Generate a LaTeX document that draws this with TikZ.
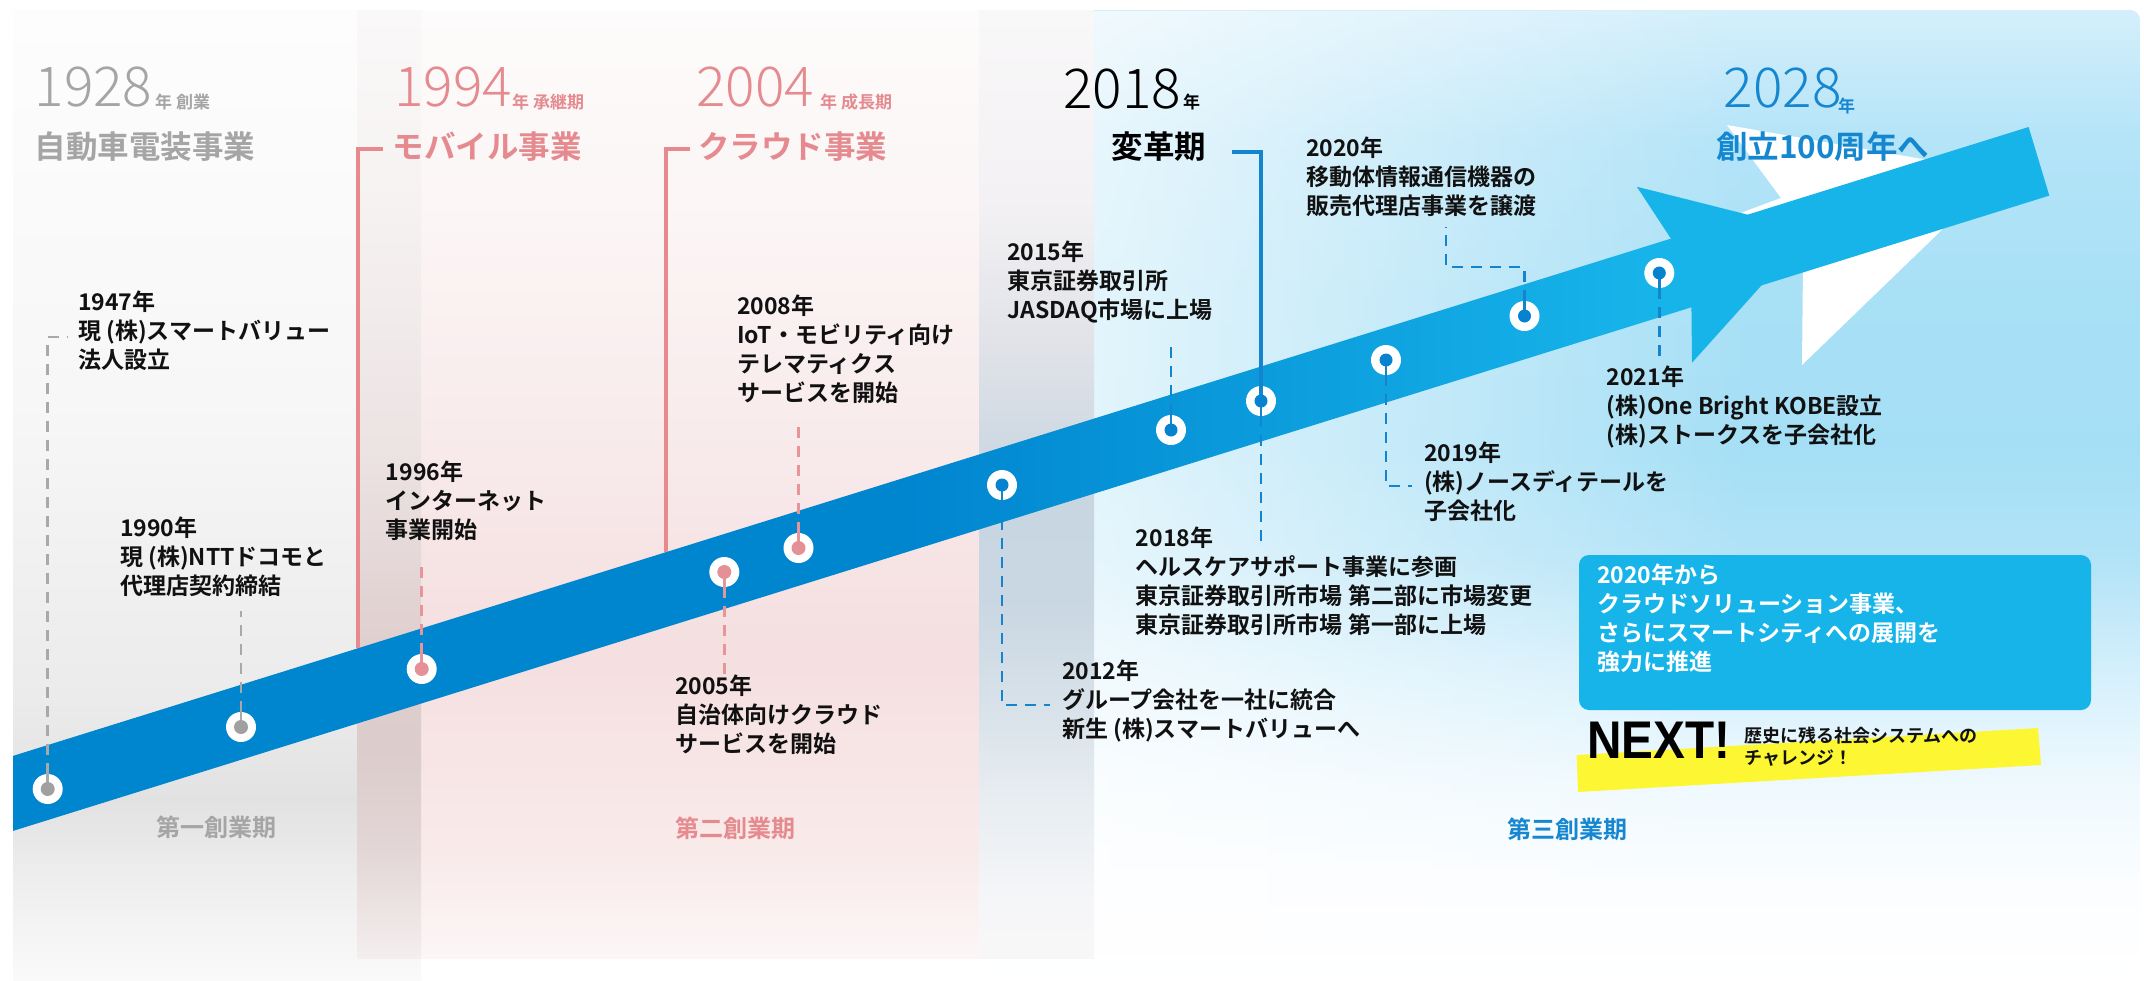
\documentclass[tikz,border=0pt]{standalone}
\usepackage{fontspec}
\usetikzlibrary{fadings}
\setmainfont{Noto Sans CJK JP}
% weights of the Japanese family, with fallbacks
\IfFontExistsTF{Noto Sans CJK JP Bold}
  {\newfontfamily\jpbold{Noto Sans CJK JP Bold}}
  {\newfontfamily\jpbold{Noto Sans CJK JP}}
\IfFontExistsTF{Noto Sans CJK JP Light}
  {\newfontfamily\jplight{Noto Sans CJK JP Light}}
  {\IfFontExistsTF{Noto Sans CJK JP DemiLight}
     {\newfontfamily\jplight{Noto Sans CJK JP DemiLight}}
     {\newfontfamily\jplight{Noto Sans CJK JP}}}
\newfontfamily\latinb{Liberation Sans}

% palette
\definecolor{bandA}{HTML}{0085CF}
\definecolor{bandB}{HTML}{17B4EA}
\definecolor{grayT}{HTML}{A5A5A5}
\definecolor{pinkT}{HTML}{E58A8F}
\definecolor{blueT}{HTML}{1587D0}
\definecolor{evtxt}{HTML}{111111}
\definecolor{gLead}{HTML}{A9A9A9}
\definecolor{pLead}{HTML}{E8959A}
\definecolor{bLead}{HTML}{1584CF}
\definecolor{gDot}{HTML}{A0A0A0}
\definecolor{pDot}{HTML}{E39196}
\definecolor{bDot}{HTML}{0782CF}
\definecolor{pinkBr}{HTML}{E8898E}
\definecolor{boxC}{HTML}{17B4E9}
\definecolor{yel}{HTML}{FDF733}
% gray panel
\definecolor{gp0}{HTML}{FAFAFA}\definecolor{gp1}{HTML}{EEEEEE}
\definecolor{gp2}{HTML}{E2E2E2}\definecolor{gp3}{HTML}{EBEBEB}
\definecolor{gp4}{HTML}{F7F7F7}\definecolor{gp5}{HTML}{FDFDFD}
% pink panel
\definecolor{pk0}{HTML}{FCF6F6}\definecolor{pk1}{HTML}{F9EAEA}
\definecolor{pk2}{HTML}{F5DFE0}\definecolor{pk3}{HTML}{F8EAEB}
\definecolor{pk4}{HTML}{FCF6F6}\definecolor{pk5}{HTML}{FDFBFB}
% gray/pink overlap
\definecolor{gk0}{HTML}{F4EEEE}\definecolor{gk1}{HTML}{E3D6D6}
\definecolor{gk2}{HTML}{DCCCCC}\definecolor{gk3}{HTML}{DFCECE}
\definecolor{gk4}{HTML}{ECE3E3}\definecolor{gk5}{HTML}{F6F2F2}
\definecolor{gk6}{HTML}{FAF8F8}
% pink/blue overlap
\definecolor{bk0}{HTML}{F8F7F8}\definecolor{bk1}{HTML}{F5F6F8}
\definecolor{bk2}{HTML}{E8EDF1}\definecolor{bk3}{HTML}{D7E1E9}
\definecolor{bk4}{HTML}{C9D7E2}\definecolor{bk5}{HTML}{C8D6E1}
\definecolor{bk6}{HTML}{E0E2E8}\definecolor{bk7}{HTML}{F3F1F3}
\definecolor{bk8}{HTML}{F9F8F9}
% blue panel
\definecolor{bl0}{HTML}{D4EFFB}\definecolor{bl1}{HTML}{B4E4F8}
\definecolor{bl2}{HTML}{A8E0F6}\definecolor{bl3}{HTML}{A5DFF6}
\definecolor{bl4}{HTML}{B2E3F7}\definecolor{bl5}{HTML}{D8F1FC}
\definecolor{bl6}{HTML}{EEF9FE}\definecolor{bl7}{HTML}{FBFDFF}

% vertical stops run from the bottom edge (25bp) to the top edge (75bp)
\pgfdeclarehorizontalshading{bandshade}{100bp}{color(0bp)=(bandA); color(46.8bp)=(bandA); color(65.2bp)=(bandB); color(100bp)=(bandB)}
\pgfdeclareverticalshading{graypanel}{100bp}{color(0bp)=(gp0); color(25bp)=(gp0); color(30.15bp)=(gp1); color(34.28bp)=(gp2); color(39.43bp)=(gp3); color(54.9bp)=(gp4); color(75bp)=(gp5); color(100bp)=(gp5)}
\pgfdeclareverticalshading{pinkpanel}{100bp}{color(0bp)=(pk0); color(25bp)=(pk0); color(30.7bp)=(pk1); color(41.24bp)=(pk2); color(51.79bp)=(pk3); color(64.98bp)=(pk4); color(75bp)=(pk5); color(100bp)=(pk5)}
\pgfdeclareverticalshading{graypink}{100bp}{color(0bp)=(gk0); color(25bp)=(gk0); color(30.7bp)=(gk1); color(35.97bp)=(gk2); color(41.24bp)=(gk3); color(51.79bp)=(gk4); color(64.98bp)=(gk5); color(75bp)=(gk6); color(100bp)=(gk6)}
\pgfdeclareverticalshading{pinkblue}{100bp}{color(0bp)=(bk0); color(25bp)=(bk0); color(28.06bp)=(bk1); color(33.33bp)=(bk2); color(38.61bp)=(bk3); color(43.88bp)=(bk4); color(50.21bp)=(bk5); color(57.07bp)=(bk6); color(64.98bp)=(bk7); color(75bp)=(bk8); color(100bp)=(bk8)}
\pgfdeclareverticalshading{bluepanel}{100bp}{color(0bp)=(white); color(25bp)=(white); color(30.15bp)=(bl7); color(35.31bp)=(bl6); color(40.26bp)=(bl5); color(46.65bp)=(bl4); color(52.32bp)=(bl3); color(60.05bp)=(bl2); color(68.3bp)=(bl1); color(75bp)=(bl0); color(100bp)=(bl0)}

\begin{document}
\begin{tikzpicture}[x=1pt, y=-1pt,
  ring/.style={circle, fill=white, minimum size=30pt, inner sep=0pt},
  evt/.style={anchor=north west, inner sep=0pt, align=left, text=evtxt,
    font=\fontsize{23}{29}\jpbold, execute at begin node={\rule{0pt}{22pt}}},
  hdyear/.style={anchor=base west, inner sep=0pt, font=\fontsize{55}{55}\jplight},
  hdsmall/.style={anchor=base west, inner sep=0pt, font=\fontsize{17}{17}\jpbold},
  hdname/.style={anchor=base west, inner sep=0pt, font=\fontsize{31.5}{31.5}\jpbold},
  period/.style={anchor=base, inner sep=0pt, font=\fontsize{24}{24}\jpbold},
  lead/.style={line width=2.6pt, dash pattern=on 11pt off 8pt},
  stub/.style={line width=2.6pt},
  bracket/.style={line width=3.6pt}]

\useasboundingbox (0,0) rectangle (2144,980);
\fill[white] (0,0) rectangle (2144,980);

% ---- era panels ----
\shade[shading=graypanel] (13,10) rectangle (421,980);
\shade[shading=pinkpanel] (357,10) rectangle (1094,958);
\begin{scope}
  \clip[rounded corners=10pt] (979,10) rectangle (2140,980);
  \shade[shading=bluepanel] (979,10) rectangle (2140,980);
  \fill[white, fill opacity=0.8, path fading=east] (979,10) rectangle (1750,980);
\end{scope}
\shade[shading=graypink] (357,10) rectangle (421,958);
\shade[shading=pinkblue] (979,10) rectangle (1094,958);

% ---- paper plane shadow ----
\fill[white] (1727,125) -- (1928,160) -- (1800,250) -- (1735,215) -- (1781,198) -- cycle;
\fill[white] (1803,262) -- (1950,222) -- (1802,365) -- cycle;

% ---- timeline band with arrow head ----
\shade[shading=bandshade] (13,755.9) -- (2028.6,127.0) -- (2049.3,195.6) -- (13,830.9) -- cycle;
\fill[bandB] (1636.8,186.7) -- (1672.5,241) -- (1752.9,216) -- cycle;
\fill[bandB] (1691.4,304) -- (1692,362.7) -- (1765.4,281) -- cycle;

% ---- era brackets ----
\coordinate (h1994) at (383,149);  \coordinate (v1994) at (358,648);
\coordinate (h2004) at (690,149);  \coordinate (v2004) at (666,552);
\draw[bracket, pinkBr] (h1994) -| (v1994);
\draw[bracket, pinkBr] (h2004) -| (v2004);

% ---- milestones on the band ----
\node[ring] (c1947) at (47.7,789) {};
\node[ring] (c1990) at (241,727) {};
\node[ring] (c1996) at (421.7,669) {};
\node[ring] (c2005) at (724.3,572) {};
\node[ring] (c2008) at (798.5,548) {};
\node[ring] (c2012) at (1002,485) {};
\node[ring] (c2015) at (1171,430) {};
\node[ring] (c2018) at (1261,401) {};
\node[ring] (c2019) at (1386,360) {};
\node[ring] (c2020) at (1524.5,316) {};
\node[ring] (c2021) at (1659.3,273) {};

% leader end points
\coordinate (t1947) at (67,337);
\coordinate (t1990) at (241,611);
\coordinate (t1996) at (421.7,563);
\coordinate (t2005) at (724.3,675);
\coordinate (t2008) at (798.5,427);
\coordinate (t2012) at (1050,705);
\coordinate (t2015) at (1171,340);
\coordinate (h2018) at (1231.7,151.7);
\coordinate (t2018) at (1261,541);
\coordinate (t2019) at (1412,486);
\coordinate (k2020) at (1446,267);
\coordinate (t2020) at (1446,227);
\coordinate (t2021) at (1659.3,358);

% leaders
\draw[lead, gLead] (c1947) |- (t1947);
\draw[lead, gLead] (c1990) -- (t1990);
\draw[lead, pLead] (c1996) -- (t1996);
\draw[lead, pLead] (c2005) -- (t2005);
\draw[lead, pLead] (c2008) -- (t2008);
\draw[lead, bLead] (c2012) |- (t2012);
\draw[lead, bLead] (c2015) -- (t2015);
\draw[bracket, bLead] (h2018) -| (c2018);
\draw[lead, bLead] (c2018) -- (t2018);
\draw[lead, bLead] (c2019) |- (t2019);
\draw[lead, bLead] (c2020) |- (k2020) -- (t2020);
\draw[lead, bLead] (c2021) -- (t2021);

% stubs crossing the white rings
\draw[stub, gLead] (c1947.center) -- (c1947.north);
\draw[stub, gLead] (c1990.center) -- (c1990.north);
\draw[stub, pLead] (c1996.center) -- (c1996.north);
\draw[stub, pLead] (c2005.center) -- (c2005.south);
\draw[stub, pLead] (c2008.center) -- (c2008.north);
\draw[stub, bLead] (c2012.center) -- (c2012.south);
\draw[stub, bLead] (c2015.center) -- (c2015.north);
\draw[bracket, bLead] (c2018.center) -- (c2018.north);
\draw[stub, bLead] (c2018.center) -- (c2018.south);
\draw[stub, bLead] (c2019.center) -- (c2019.south);
\draw[stub, bLead] (c2020.center) -- (c2020.north);
\draw[stub, bLead] (c2021.center) -- (c2021.south);

% dots
\foreach \c in {c1947,c1990} \fill[gDot] (\c) circle[radius=7];
\foreach \c in {c1996,c2005,c2008} \fill[pDot] (\c) circle[radius=7];
\foreach \c in {c2012,c2015,c2018,c2019,c2020,c2021} \fill[bDot] (\c) circle[radius=6.5];

% ---- era headings ----
\node[hdyear, text=grayT] (y1928) at (34.4,106.7) {1928};
\node[hdsmall, text=grayT] (n1928) at (155,108.5) {年 創業};
\node[hdname, text=grayT] (s1928) at (34.4,158) {自動車電装事業};

\node[hdyear, text=pinkT] (y1994) at (394,106.7) {1994};
\node[hdsmall, text=pinkT] (n1994) at (512,108.5) {年 承継期};
\node[hdname, text=pinkT] (s1994) at (392.6,158) {モバイル事業};

\node[hdyear, text=pinkT] (y2004) at (696,106.7) {2004};
\node[hdsmall, text=pinkT] (n2004) at (820,108.5) {年 成長期};
\node[hdname, text=pinkT] (s2004) at (698,158) {クラウド事業};

\node[hdyear, text=black] (y2018) at (1063,108) {2018};
\node[hdsmall, text=black] (n2018) at (1183,108.5) {年};
\node[hdname, text=black] (s2018) at (1111.6,158) {変革期};

\node[hdyear, text=blueT] (y2028) at (1723.6,107) {2028};
\node[hdsmall, text=blueT] (n2028) at (1838,112) {年};
\node[hdname, text=blueT] (s2028) at (1716,158) {創立100周年へ};

% ---- milestone texts ----
\node[evt] (e1947) at (78,290.5) {1947年\\現 (株)スマートバリュー\\法人設立};
\node[evt] (e1990) at (120,516.7) {1990年\\現 (株)NTTドコモと\\代理店契約締結};
\node[evt] (e1996) at (385.7,460.7) {1996年\\インターネット\\事業開始};
\node[evt] (e2005) at (675,674.7) {2005年\\自治体向けクラウド\\サービスを開始};
\node[evt] (e2008) at (737,294.2) {2008年\\IoT・モビリティ向け\\テレマティクス\\サービスを開始};
\node[evt] (e2012) at (1062,659.7) {2012年\\グループ会社を一社に統合\\新生 (株)スマートバリューへ};
\node[evt] (e2015) at (1007,240.7) {2015年\\東京証券取引所\\JASDAQ市場に上場};
\node[evt] (e2018) at (1135.7,526.7) {2018年\\ヘルスケアサポート事業に参画\\東京証券取引所市場 第二部に市場変更\\東京証券取引所市場 第一部に上場};
\node[evt] (e2019) at (1424,441.2) {2019年\\(株)ノースディテールを\\子会社化};
\node[evt] (e2020) at (1306,136.7) {2020年\\移動体情報通信機器の\\販売代理店事業を譲渡};
\node[evt] (e2021) at (1606.6,365.7) {2021年\\(株)One Bright KOBE設立\\(株)ストークスを子会社化};

% ---- period labels ----
\node[period, text=grayT] (p1) at (216,836) {第一創業期};
\node[period, text=pinkT] (p2) at (735.6,837) {第二創業期};
\node[period, text=blueT] (p3) at (1567,838) {第三創業期};

% ---- outlook box ----
\fill[boxC, rounded corners=10pt] (1579,555) rectangle (2091,710);
\node[evt, text=white] (boxtext) at (1597,563.4) {2020年から\\クラウドソリューション事業、\\さらにスマートシティへの展開を\\強力に推進};

\fill[yel] (1576.6,755) -- (2038,728) -- (2041,765) -- (1578,792) -- cycle;
\node[anchor=base west, inner sep=0pt, font=\fontsize{53}{53}\latinb\bfseries] (next) at (1587,758.3) {\scalebox{0.9}[1]{NEXT!}};
\node[anchor=north west, inner sep=0pt, align=left, text=evtxt, font=\fontsize{18}{22}\jpbold,
  execute at begin node={\rule{0pt}{17pt}}] (challenge) at (1744,726.3) {歴史に残る社会システムへの\\チャレンジ！};

\end{tikzpicture}
\end{document}
